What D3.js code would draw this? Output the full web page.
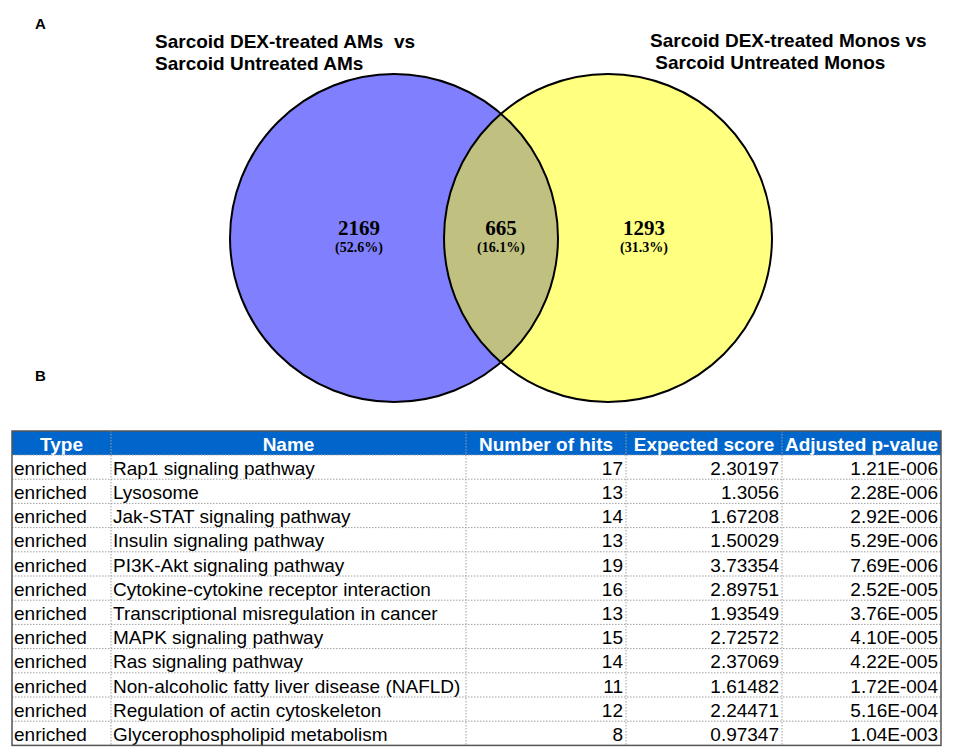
<!DOCTYPE html>
<html>
<head>
<meta charset="utf-8">
<script src="https://cdn.jsdelivr.net/npm/d3@7"></script>
<style>
  body { margin: 0; background: #fff; }
  svg { display: block; }
  text { white-space: pre; }
</style>
</head>
<body>
<svg width="957" height="752"></svg>
<script>
// --- venn data ---
var setNames = [
  ["Sarcoid DEX-treated AMs  vs", "Sarcoid Untreated AMs"],
  ["Sarcoid DEX-treated Monos vs", " Sarcoid Untreated Monos"]
]
var vennCounts = [2169, 665, 1293]   // left only, both, right only

// --- table data ---
var columns = ["Type", "Name", "Number of hits", "Expected score", "Adjusted p-value"]
var types = ["enriched", "enriched", "enriched", "enriched", "enriched", "enriched",
             "enriched", "enriched", "enriched", "enriched", "enriched", "enriched"]
var names = ["Rap1 signaling pathway", "Lysosome", "Jak-STAT signaling pathway",
             "Insulin signaling pathway", "PI3K-Akt signaling pathway",
             "Cytokine-cytokine receptor interaction", "Transcriptional misregulation in cancer",
             "MAPK signaling pathway", "Ras signaling pathway",
             "Non-alcoholic fatty liver disease (NAFLD)", "Regulation of actin cytoskeleton",
             "Glycerophospholipid metabolism"]
var hits = [17, 13, 14, 13, 19, 16, 13, 15, 14, 11, 12, 8]
var expected = [2.30197, 1.3056, 1.67208, 1.50029, 3.73354, 2.89751, 1.93549,
                2.72572, 2.37069, 1.61482, 2.24471, 0.97347]
var pvalues = [1.21e-6, 2.28e-6, 2.92e-6, 5.29e-6, 7.69e-6, 2.52e-5, 3.76e-5,
               4.10e-5, 4.22e-5, 1.72e-4, 5.16e-4, 1.04e-3]

var svg = d3.select('svg')

// panel letters
svg.append('text').attr('x', 35).attr('y', 29).text('A')
  .style('font', 'bold 15px "Liberation Sans", Arial, sans-serif')
svg.append('text').attr('x', 35).attr('y', 381).text('B')
  .style('font', 'bold 15px "Liberation Sans", Arial, sans-serif')

// ---------- venn ----------
var r = 164, cy = 238
var cxs = [394, 608]
var fills = ['#8080ff', '#ffff80']

svg.append('clipPath').attr('id', 'leftclip')
  .append('circle').attr('cx', cxs[0]).attr('cy', cy).attr('r', r)

svg.selectAll('circle.set')
  .data(cxs)
  .enter()
  .append('circle')
  .attr('class', 'set')
  .attr('cx', function(d){ return d })
  .attr('cy', cy)
  .attr('r', r)
  .attr('fill', function(d, i){ return fills[i] })

// overlap = right circle clipped by the left one
svg.append('circle')
  .attr('cx', cxs[1]).attr('cy', cy).attr('r', r)
  .attr('fill', '#c0c080')
  .attr('clip-path', 'url(#leftclip)')

svg.selectAll('circle.outline')
  .data(cxs)
  .enter()
  .append('circle')
  .attr('cx', function(d){ return d })
  .attr('cy', cy)
  .attr('r', r)
  .attr('fill', 'none')
  .attr('stroke', '#000')
  .attr('stroke-width', 2)

var total = d3.sum(vennCounts)
var labelX = [cxs[0] - 35, (cxs[0] + cxs[1]) / 2, cxs[1] + 36]
var lab = svg.selectAll('g.vlabel')
  .data(vennCounts)
  .enter()
  .append('g')
  .attr('transform', function(d, i){ return 'translate(' + labelX[i] + ',0)' })
  .style('font-family', '"Liberation Serif", "Times New Roman", serif')
  .style('font-weight', 'bold')
  .attr('text-anchor', 'middle')
lab.append('text').attr('y', 235).style('font-size', '21px').text(function(d){ return d })
lab.append('text').attr('y', 252).style('font-size', '14px')
  .text(function(d){ return '(' + d3.format('.1f')(d / total * 100) + '%)' })

var titleX = [155, 650]
setNames.forEach(function(lines, i){
  svg.selectAll(null)
    .data(lines)
    .enter()
    .append('text')
    .attr('x', titleX[i])
    .attr('y', function(d, j){ return (i == 0 ? 48 : 47) + j * 22 })
    .style('font', 'bold 19px "Liberation Sans", Arial, sans-serif')
    .text(function(d){ return d })
})

// ---------- table ----------
var colEdges = [12, 111, 466, 626, 782, 941]
var tableTop = 431, headH = 24, rowH = 24.2
var rows = d3.range(names.length)
var tableBottom = tableTop + headH + rows.length * rowH
var y = d3.scaleBand().domain(rows).range([tableTop + headH, tableBottom])

var fmtP = function(v){
  var s = d3.format('.2e')(v).split('e')
  var ex = +s[1]
  return s[0] + 'E' + (ex < 0 ? '-' : '+') + d3.format('03d')(Math.abs(ex))
}

// header
svg.append('rect')
  .attr('x', colEdges[0]).attr('y', tableTop)
  .attr('width', colEdges[5] - colEdges[0]).attr('height', headH)
  .attr('fill', '#0066cc')

svg.selectAll('text.head')
  .data(columns)
  .enter()
  .append('text')
  .attr('x', function(d, i){ return (colEdges[i] + colEdges[i + 1]) / 2 })
  .attr('y', tableTop + headH - 4)
  .attr('text-anchor', 'middle')
  .attr('fill', '#fff')
  .style('font', 'bold 19px "Liberation Sans", Arial, sans-serif')
  .text(function(d){ return d })

// grid
var grid = svg.append('g')
  .attr('stroke', '#a0a0a0')
  .attr('stroke-width', 1)
  .attr('stroke-dasharray', '1.5,1.5')
grid.selectAll('line.h')
  .data(rows)
  .enter()
  .append('line')
  .attr('x1', colEdges[0]).attr('x2', colEdges[5])
  .attr('y1', function(d){ return y(d) }).attr('y2', function(d){ return y(d) })
grid.selectAll('line.v')
  .data(colEdges.slice(1, 5))
  .enter()
  .append('line')
  .attr('x1', function(d){ return d }).attr('x2', function(d){ return d })
  .attr('y1', tableTop).attr('y2', tableBottom)

// body cells
var cells = [
  { vals: types, anchor: 'start' },
  { vals: names, anchor: 'start' },
  { vals: hits, anchor: 'end' },
  { vals: expected, anchor: 'end' },
  { vals: pvalues.map(fmtP), anchor: 'end' }
]
cells.forEach(function(c, ci){
  svg.selectAll(null)
    .data(c.vals)
    .enter()
    .append('text')
    .attr('x', c.anchor == 'start' ? colEdges[ci] + 2 : colEdges[ci + 1] - 3)
    .attr('y', function(d, i){ return y(i) + rowH - 4.5 })
    .attr('text-anchor', c.anchor)
    .style('font', '19px "Liberation Sans", Arial, sans-serif')
    .attr('fill', '#000')
    .text(function(d){ return d })
})

// outer border
svg.append('rect')
  .attr('x', colEdges[0]).attr('y', tableTop)
  .attr('width', colEdges[5] - colEdges[0]).attr('height', tableBottom - tableTop)
  .attr('fill', 'none')
  .attr('stroke', '#555')
  .attr('stroke-width', 1.5)
</script>
</body>
</html>
